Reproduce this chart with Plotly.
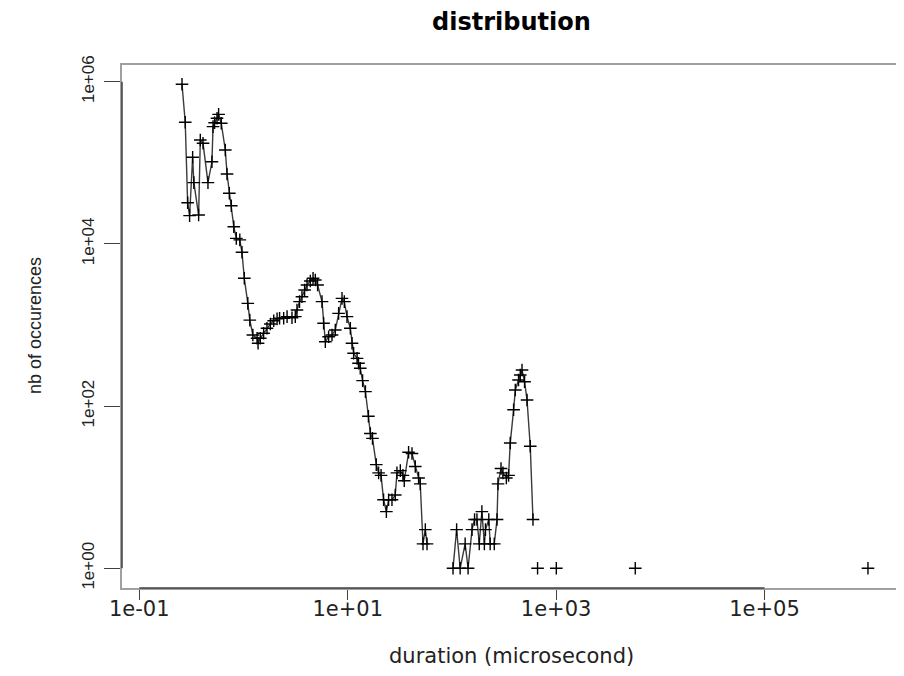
import plotly.graph_objects as go

# histogram of durations (microsecond) -> number of occurrences (0 = empty bin)
duration = [0.257, 0.276, 0.291, 0.304, 0.325, 0.334, 0.371, 0.385, 0.409, 0.456,
            0.498, 0.510, 0.528, 0.557, 0.577, 0.612, 0.669, 0.695, 0.731, 0.764,
            0.807, 0.853, 0.922, 0.967,
            1.018, 1.10, 1.15, 1.23, 1.35, 1.38, 1.45, 1.56, 1.68, 1.81,
            1.95, 2.10, 2.22, 2.43, 2.62, 2.92, 3.14, 3.26, 3.45, 3.64,
            3.86, 4.07, 4.38, 4.65, 4.89, 5.14,
            5.67, 5.87, 6.10, 6.56, 7.07, 7.60, 8.18, 8.82, 9.28, 9.85,
            10.6, 11.0, 11.4, 12.3, 12.7, 13.2, 13.9, 14.8, 15.8, 16.5, 17.3,
            18.8, 19.8, 20.9, 22.1, 23.5, 24.7, 26.6, 28.6, 29.7, 32.0,
            33.9, 34.9, 38.4, 41.4, 44.5, 47.9, 49.7, 52.8, 55.6, 57.7,
            75,
            102.5, 111, 120, 134, 143, 156, 165, 174, 183, 194,
            205, 210, 226, 233, 255, 271, 277, 296, 309, 333,
            350, 363, 391, 406, 436, 453, 471, 498, 526, 565, 600,
            630, 664, 800, 1005, 2000, 5750, 50000, 984000]

count = [930000, 316000, 32200, 22300, 117000, 56900, 22700, 191000, 174000, 56900,
         103000, 279000, 312000, 354000, 396000, 307000, 144000, 72800, 42100, 29600,
         16300, 11700, 11200, 7880,
         3770, 1850, 1150, 753, 686, 595, 686, 790, 910, 1030,
         1130, 1190, 1210, 1210, 1270, 1230, 1270, 1530, 1940, 2230,
         2700, 3110, 3490, 3770, 3590, 3110,
         1940, 1050, 622, 717, 753, 867, 1390, 2130, 1940, 1270,
         910, 595, 448, 388, 337, 293, 206, 151, 75, 46, 40,
         19, 15, 14, 7, 5, 7, 7, 8, 15, 16,
         14, 12, 27, 26, 18, 13, 11, 2, 3, 2,
         0,
         1, 3, 1, 2, 1, 3, 4, 4, 2, 5,
         2, 3, 4, 2, 2, 4, 11, 17, 15, 13,
         14, 35, 90, 158, 210, 242, 279, 200, 119, 32, 4,
         0, 1, 0, 1, 0, 1, 0, 1]

x_tickvals = [0.1, 10, 1e3, 1e5]
x_ticktext = ["1e-01", "1e+01", "1e+03", "1e+05"]
y_tickvals = [1, 100, 1e4, 1e6]
y_ticktext = ["1e+00", "1e+02", "1e+04", "1e+06"]

title_text = "distribution"
x_title = "duration (microsecond)"
y_title = "nb of occurences"

y_plot = [c if c > 0 else None for c in count]

fig = go.Figure()
fig.add_trace(go.Scatter(
    x=duration, y=y_plot, mode="lines+markers", connectgaps=False,
    line=dict(color="#3a3a3a", width=1.4),
    marker=dict(symbol="cross-thin", size=9, color="black",
                line=dict(color="black", width=1.4)),
    showlegend=False, hoverinfo="x+y"))

H_FONT = "DejaVu Sans, sans-serif"
V_FONT = "Liberation Sans, Arial, sans-serif"
AXIS_DARK = "#404040"
BOX_GRAY = "#a0a0a0"

# darker axis segments drawn from first to last tick (as R's axis())
shapes = [
    dict(type="line", xref="x", yref="paper", layer="above",
         x0=x_tickvals[0], x1=x_tickvals[-1], y0=0, y1=0,
         line=dict(color=AXIS_DARK, width=1.5)),
    dict(type="line", xref="paper", yref="y", layer="above",
         x0=0, x1=0, y0=y_tickvals[0], y1=y_tickvals[-1],
         line=dict(color=AXIS_DARK, width=1.5)),
]

PLOT_W = 774  # plot-area width in px
PLOT_H = 523  # plot-area height in px
fig.update_layout(
    width=888, height=660,
    paper_bgcolor="white", plot_bgcolor="white",
    margin=dict(l=114, r=0, t=57, b=80, pad=0),
    xaxis=dict(type="log", range=[-1.166, 6.262],
               tickmode="array", tickvals=x_tickvals, ticktext=x_ticktext,
               ticks="outside", ticklen=10, tickwidth=1.3, tickcolor=AXIS_DARK,
               showline=True, linecolor=BOX_GRAY, linewidth=1.6, mirror=True,
               showgrid=False, zeroline=False,
               tickfont=dict(family=H_FONT, size=21, color="#222"),
               ticklabelstandoff=-9),
    yaxis=dict(type="log", range=[-0.243, 6.206],
               tickmode="array", tickvals=y_tickvals, ticktext=y_ticktext,
               ticks="outside", ticklen=16, tickwidth=1.3, tickcolor=AXIS_DARK,
               tickangle=-90,
               showline=True, linecolor=BOX_GRAY, linewidth=1.6, mirror=False,
               showgrid=False, zeroline=False,
               tickfont=dict(family=V_FONT, size=17, color="#222"),
               ticklabelstandoff=3),
    shapes=shapes,
    annotations=[
        dict(text="<b>" + title_text + "</b>", xref="paper", yref="paper",
             x=(511 - 122) / PLOT_W, y=1 + 43 / PLOT_H, xanchor="center", yanchor="middle",
             showarrow=False, font=dict(family=H_FONT, size=24, color="black")),
        dict(text=x_title, xref="paper", yref="paper",
             x=(511 - 122) / PLOT_W, y=-68 / PLOT_H, xanchor="center", yanchor="middle",
             showarrow=False, font=dict(family=H_FONT, size=21, color="#222")),
        dict(text=y_title, xref="paper", yref="paper",
             x=-87 / PLOT_W, y=0.501, xanchor="center", yanchor="middle",
             textangle=-90, showarrow=False,
             font=dict(family=V_FONT, size=18, color="#222")),
    ],
)

fig.write_html("out.html")
